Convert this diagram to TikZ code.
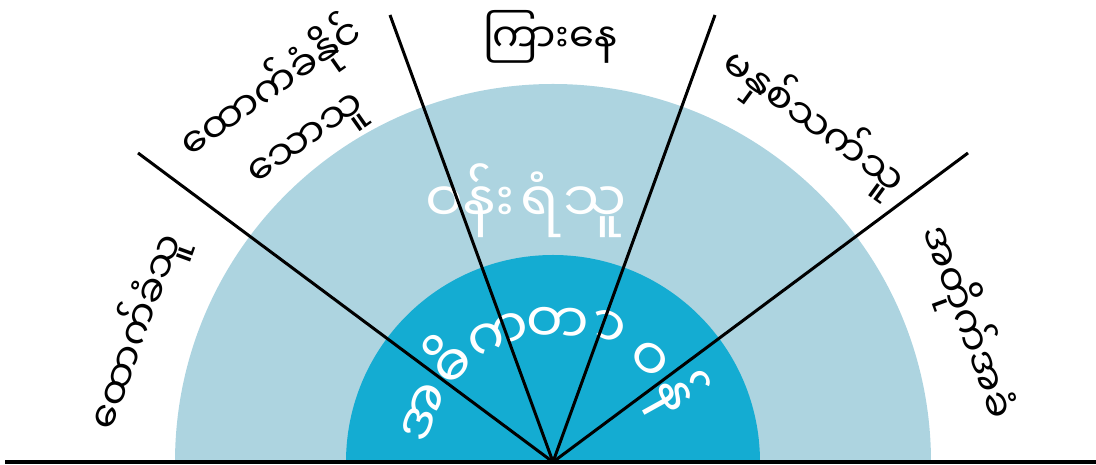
\documentclass[tikz,border=0pt]{standalone}
\usepackage{fontspec}
\newfontfamily\mmfont[Script=Myanmar]{Noto Sans Myanmar UI}
\definecolor{ringlight}{HTML}{ADD4E0}
\definecolor{ringdark}{HTML}{14ACD2}
\tikzset{
  divider/.style={line width=3pt, black},
  baseline rule/.style={line width=4pt, black},
  outerlabel/.style={font=\mmfont\fontsize{40}{60}\selectfont, text=black, inner sep=0pt, align=center},
  ringlabel/.style={font=\mmfont\fontsize{56}{60}\selectfont, text=white, inner sep=0pt, anchor=base},
  innerlabel/.style={font=\mmfont\fontsize{56}{60}\selectfont, text=white, inner sep=0pt, anchor=base},
}
\begin{document}
\begin{tikzpicture}[x=1pt,y=1pt]
\useasboundingbox (0,0) rectangle (1096,465);
\coordinate (C) at (553,3);
% rings
\fill[ringlight] (175,3) arc[start angle=180,end angle=0,radius=378] -- cycle;
\fill[ringdark] (346,3) arc[start angle=180,end angle=0,radius=207] -- cycle;
% middle ring text
\node[ringlabel] (w1) at (470,242) {ဝန်း};
\node[ringlabel] (w2) at (540,242) {ရံ};
\node[ringlabel] (w3) at (595,242) {သူ};
% inner ring text
\begin{scope}[shift={(553,3)}]
\foreach \t/\a/\r [count=\i] in {အ/159/118, ဓိ/136/118, က/113/118, တ/88/118, {\char"00A0ာ\char"00A0}/66/125, ဝ/47/120, န်/29/118}{
  \node[innerlabel, rotate=\a-90] (in\i) at (\a:\r) {\t};
}
\end{scope}
% dividers
\coordinate (e1) at (138,312);
\coordinate (e2) at (390,450);
\coordinate (e3) at (715,450);
\coordinate (e4) at (968,312);
\coordinate (bl) at (5,3);
\coordinate (br) at (1096,3);
\draw[divider] (C) -- (e1);
\draw[divider] (C) -- (e2);
\draw[divider] (C) -- (e3);
\draw[divider] (C) -- (e4);
\draw[baseline rule] (bl) -- (br);
% outer labels
\node[outerlabel, rotate=70] (l1) at (137,133) {ထောက်ခံသူ};
\node[outerlabel, rotate=35] (l2) at (288,352) {ထောက်ခံနိုင်\\သောသူ};
\node[outerlabel] (l3) at (550,428) {ကြားနေ};
\node[outerlabel, rotate=-36] (l4) at (813,343) {မနှစ်သက်သူ};
\node[outerlabel, rotate=-70] (l5) at (967,143) {အတိုက်အခံ};
\end{tikzpicture}
\end{document}
